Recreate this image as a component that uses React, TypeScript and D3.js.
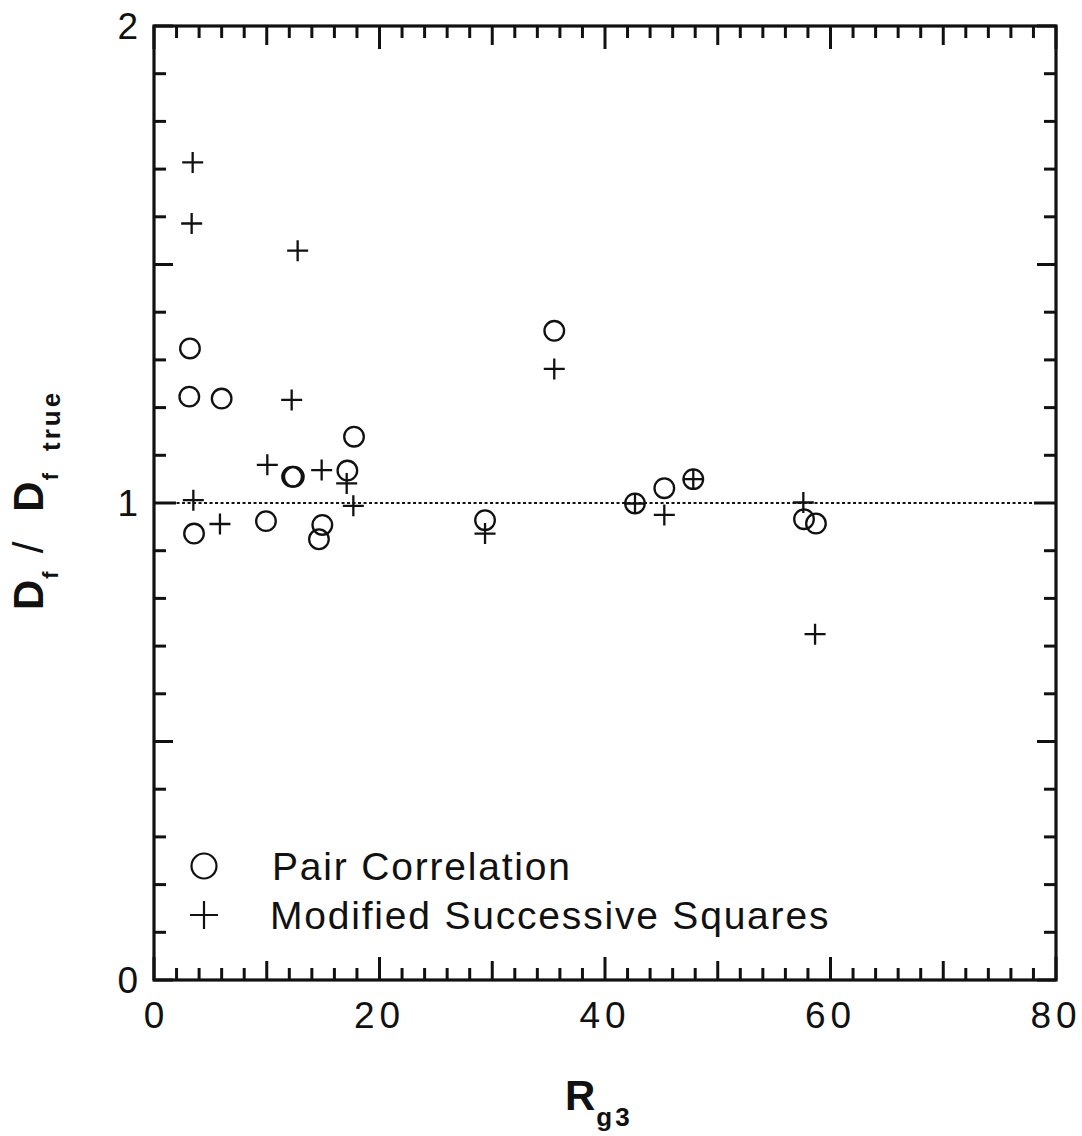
import React from 'react';
import * as d3 from 'd3';

// Pair Correlation (open circles): [R_g3, Df/Df_true]
const pairCorrelation: [number, number][] = [
  [3.19, 1.324], [3.13, 1.223], [6.0, 1.219], [17.74, 1.139], [17.15, 1.068],
  [12.25, 1.055], [12.4, 1.055], [3.55, 0.936], [9.93, 0.962], [14.93, 0.954],
  [14.63, 0.924], [29.36, 0.964], [35.5, 1.361], [42.66, 0.999], [45.26, 1.031],
  [47.83, 1.05], [57.65, 0.966], [58.71, 0.957]
];

// Modified Successive Squares (plus signs)
const successiveSquares: [number, number][] = [
  [3.43, 1.714], [3.34, 1.586], [12.74, 1.529], [12.21, 1.216], [10.05, 1.08],
  [14.87, 1.069], [17.09, 1.041], [3.49, 1.006], [5.85, 0.956], [17.68, 0.994],
  [29.36, 0.936], [35.5, 1.281], [42.66, 0.999], [45.26, 0.975], [47.83, 1.05],
  [57.59, 1.001], [58.63, 0.725]
];

const xTickLabels = [0, 20, 40, 60, 80];
const yTickLabels = [0, 1, 2];
const legendItems = ['Pair Correlation', 'Modified Successive Squares'];

const W = 1082;
const H = 1136;
const font = '"Liberation Sans", Arial, Helvetica, sans-serif';

export default function App() {
  const left = 154, right = 1056, top = 26, bottom = 980;
  const x = d3.scaleLinear().domain([0, 80]).range([left, right]);
  const y = d3.scaleLinear().domain([0, 2]).range([bottom, top]);

  const xMinor = x.ticks(40);
  const yMinor = y.ticks(20);
  const xLen = (v: number) => (v % 20 === 0 ? 23 : v % 10 === 0 ? 19 : 12);
  const yLen = (v: number) => {
    const k = Math.round(v * 10);
    return k === 10 ? 22 : k % 5 === 0 ? 19 : 12;
  };

  const r = 9.8;
  const arm = 10.5;

  return (
    <svg width={W} height={H} style={{ position: 'absolute', left: 0, top: 0, background: '#fff' }}>
      <rect width={W} height={H} fill="#fff" />

      {/* reference line at 1 */}
      <line x1={x(2)} x2={right} y1={y(1)} y2={y(1)} stroke="#111" strokeWidth={1.8} strokeDasharray="3 2.5" />

      {/* ticks */}
      <g stroke="#111" strokeWidth={3}>
        {xMinor.map((v) => (
          <g key={'xt' + v}>
            <line x1={x(v)} x2={x(v)} y1={bottom} y2={bottom - xLen(v)} />
            <line x1={x(v)} x2={x(v)} y1={top} y2={top + xLen(v)} />
          </g>
        ))}
        {yMinor.map((v) => (
          <g key={'yt' + v}>
            <line x1={left} x2={left + yLen(v)} y1={y(v)} y2={y(v)} />
            <line x1={right} x2={right - yLen(v)} y1={y(v)} y2={y(v)} />
          </g>
        ))}
      </g>

      {/* frame */}
      <rect x={left} y={top} width={right - left} height={bottom - top} fill="none" stroke="#111" strokeWidth={3.2} />

      {/* tick labels */}
      <g fontFamily={font} fontSize={37} fill="#111">
        {xTickLabels.map((v) => (
          <text key={'xl' + v} x={x(v)} y={1028} textAnchor="middle" letterSpacing={v === 0 ? 0 : 5}>
            {v}
          </text>
        ))}
        {yTickLabels.map((v) => (
          <text key={'yl' + v} x={138} y={y(v) + 13} textAnchor="end">
            {v}
          </text>
        ))}
      </g>

      {/* data */}
      <g fill="none" stroke="#111" strokeWidth={2.3}>
        {pairCorrelation.map(([a, b], i) => (
          <circle key={'c' + i} cx={x(a)} cy={y(b)} r={r} />
        ))}
        {successiveSquares.map(([a, b], i) => (
          <path key={'p' + i} d={`M${x(a) - arm},${y(b)}H${x(a) + arm}M${x(a)},${y(b) - arm}V${y(b) + arm}`} />
        ))}
      </g>

      {/* legend */}
      <g fill="none" stroke="#111" strokeWidth={2.2}>
        <circle cx={204} cy={866} r={12.5} />
        <path d="M190,915H218M204,901V929" />
      </g>
      <g fontFamily={font} fontSize={39} fill="#111" letterSpacing={1.8}>
        <text x={272} y={880}>{legendItems[0]}</text>
        <text x={270} y={929}>{legendItems[1]}</text>
      </g>

      {/* x axis title */}
      <text x={565} y={1110} fontFamily={font} fontWeight="bold" fill="#111">
        <tspan fontSize={42}>R</tspan>
        <tspan fontSize={26} dy={16} dx={1} letterSpacing={3}>g3</tspan>
      </text>

      {/* y axis title */}
      <text transform="translate(43,610) rotate(-90)" fontFamily={font} fontWeight="bold" fill="#111">
        <tspan fontSize={42}>D</tspan>
        <tspan fontSize={22} dy={15} dx={1}>f</tspan>
        <tspan fontSize={42} fontWeight="normal" dy={-15} dx={18}>/</tspan>
        <tspan fontSize={42} dx={30}>D</tspan>
        <tspan fontSize={22} dy={15} dx={1}>f</tspan>
        <tspan fontSize={26} dy={2} dx={22} letterSpacing={3}>true</tspan>
      </text>
    </svg>
  );
}
